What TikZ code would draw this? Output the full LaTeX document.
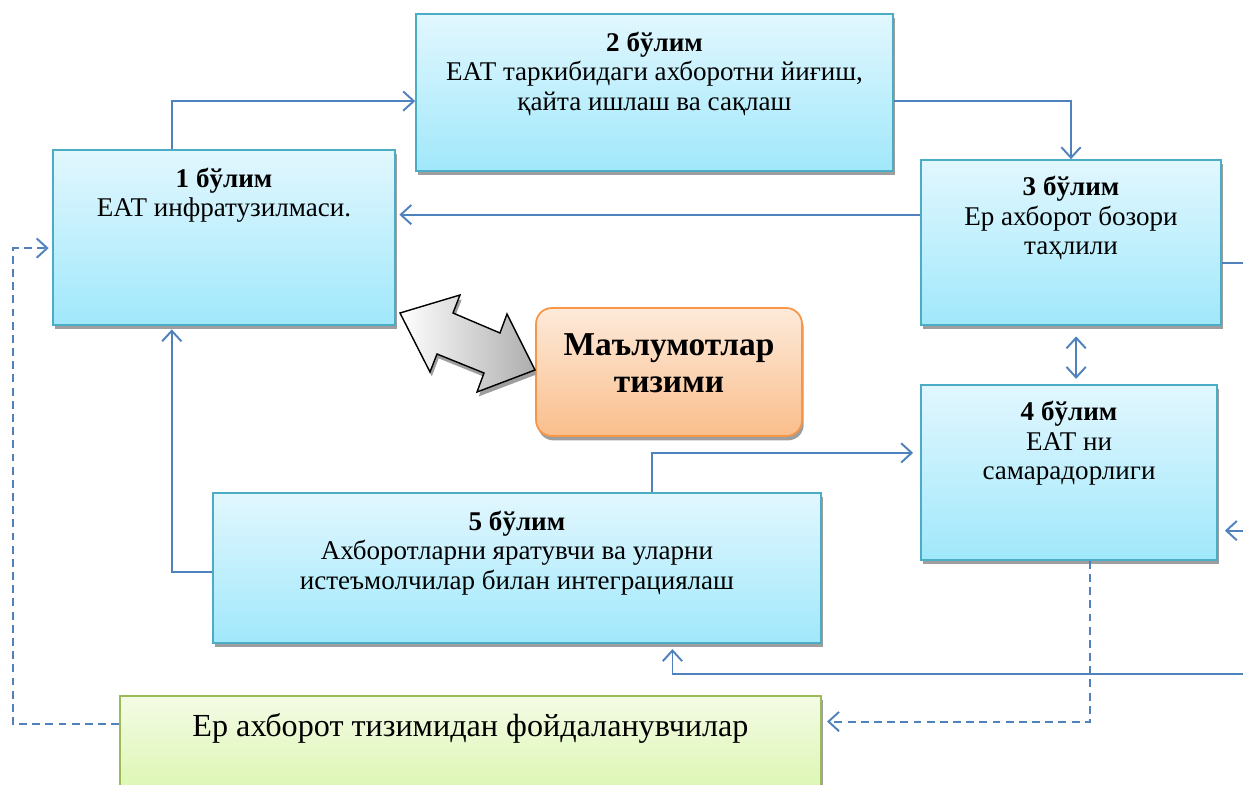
\documentclass[tikz,border=0pt]{standalone}
\usepackage{fontspec}
\setmainfont{Liberation Serif}
\usetikzlibrary{arrows.meta,calc,shadows}

\definecolor{linkblue}{RGB}{79,129,189}
\definecolor{partedge}{RGB}{75,172,198}
\definecolor{parttop}{RGB}{226,247,254}
\definecolor{partbot}{RGB}{160,232,251}
\definecolor{useredge}{RGB}{155,187,89}
\definecolor{usertop}{RGB}{244,251,230}
\definecolor{userbot}{RGB}{214,245,164}
\definecolor{dataedge}{RGB}{247,150,70}
\definecolor{datatop}{RGB}{253,234,218}
\definecolor{databot}{RGB}{250,190,140}

\tikzset{
  barb/.tip={Straight Barb[length=6pt,width=11pt,line width=1.1pt]},
  link/.style={draw=linkblue, line width=1.1pt, -barb},
  dlink/.style={link, dash pattern=on 4.5pt off 3pt},
  boxshadow/.style={drop shadow={shadow xshift=1pt,shadow yshift=-2.5pt,opacity=1,fill=black!38}},
  partbox/.style={draw=partedge, line width=1pt, top color=parttop, bottom color=partbot, boxshadow, inner sep=0pt},
  parttext/.style={anchor=north, align=center, yshift=-7pt, font=\fontsize{15.4}{17}\selectfont},
}

\begin{document}
\begin{tikzpicture}[x=0.02cm,y=-0.02cm]
\useasboundingbox (0,0) rectangle (1243,784);
\clip (0,0) rectangle (1243,784);

%% parts
\node[partbox, minimum width=6.84cm, minimum height=3.5cm,
  label={[parttext]north:{\textbf{1 бўлим}\\ЕАТ инфратузилмаси.}}] (b1) at (224,237.5) {};
\node[partbox, minimum width=9.54cm, minimum height=3.14cm,
  label={[parttext]north:{\textbf{2 бўлим}\\ЕАТ таркибидаги ахборотни йиғиш,\\қайта ишлаш ва сақлаш}}] (b2) at (654.5,92.5) {};
\node[partbox, minimum width=6cm, minimum height=3.3cm,
  label={[parttext,yshift=1pt]north:{\textbf{3 бўлим}\\Ер ахборот бозори\\таҳлили}}] (b3) at (1071,242.5) {};
\node[partbox, minimum width=5.92cm, minimum height=3.5cm,
  label={[parttext,yshift=1pt]north:{\textbf{4 бўлим}\\ЕАТ ни\\самарадорлиги}}] (b4) at (1069,472.5) {};
\node[partbox, minimum width=12.16cm, minimum height=3cm,
  label={[parttext]north:{\textbf{5 бўлим}\\Ахборотларни яратувчи ва уларни\\истеъмолчилар билан интеграциялаш}}] (b5) at (517,568) {};

%% users
\node[draw=useredge, line width=1pt, top color=usertop, bottom color=userbot, boxshadow,
  minimum width=14.02cm, minimum height=2.4cm, inner sep=0pt,
  label={[parttext,font=\fontsize{18.3}{20}\selectfont]north:{Ер ахборот тизимидан фойдаланувчилар}}] (users) at (470.5,756) {};

%% data system
\node[draw=dataedge, line width=1pt, rounded corners=9pt, top color=datatop, bottom color=databot, boxshadow,
  minimum width=5.32cm, minimum height=2.56cm, inner sep=0pt,
  label={[align=center,anchor=center,yshift=5pt,font=\fontsize{19}{21}\selectfont\bfseries]center:{Маълумотлар\\тизими}}] (data) at (669,372) {};

%% double block arrow
\draw[line width=0.8pt, left color=white, right color=black!32, boxshadow]
  (400,313) -- (460,295) -- (453,313) -- (500,333) -- (507,314) -- (535,370)
  -- (477,392) -- (484,373) -- (437,354) -- (430,372) -- cycle;

%% solid connectors
\draw[link] ($(b1.north west)!0.348!(b1.north east)$) |- ($(b2.north west)!0.554!(b2.south west)$);
\draw[link] ($(b2.north east)!0.554!(b2.south east)$) -| (b3.north);
\coordinate (p31) at ($(b3.north west)!0.333!(b3.south west)$);
\draw[link, shorten >=2pt] (p31) -- (p31 -| b1.east);
\draw[link, -] ($(b3.north east)!0.624!(b3.south east)$) -- ++(60,0);
\coordinate (p34) at ($(b3.south west)!0.517!(b3.south east)$);
\draw[link, barb-barb, shorten <=6pt, shorten >=3pt] (p34) -- (p34 |- b4.north);
\draw[link, shorten >=4pt] ($(b5.north west)!0.722!(b5.north east)$) |- ($(b4.north west)!0.389!(b4.south west)$);
\draw[link, shorten >=2pt] ($(b5.north west)!0.527!(b5.south west)$) -| ($(b1.south west)!0.348!(b1.south east)$);
\coordinate (e4) at ($(b4.north east)!0.829!(b4.south east)$);
\draw[link, shorten >=4pt] ($(e4)+(60,0)$) -- (e4);
\coordinate (s5) at ($(b5.south west)!0.755!(b5.south east)$);
\draw[link, shorten >=3pt] ($(s5)+(620,30)$) -| (s5);

%% dashed connectors
\coordinate (ue) at ($(users.north east)!0.217!(users.south east)$);
\draw[dlink, shorten >=3pt] ($(b4.south west)!0.571!(b4.south east)$) |- (ue);
\coordinate (uw) at ($(users.north west)!0.24!(users.south west)$);
\coordinate (b1w) at ($(b1.north west)!0.56!(b1.south west)$);
\draw[dlink, shorten >=2pt] (uw) -| ($(b1w)+(-39,0)$) -- (b1w);
\end{tikzpicture}
\end{document}
